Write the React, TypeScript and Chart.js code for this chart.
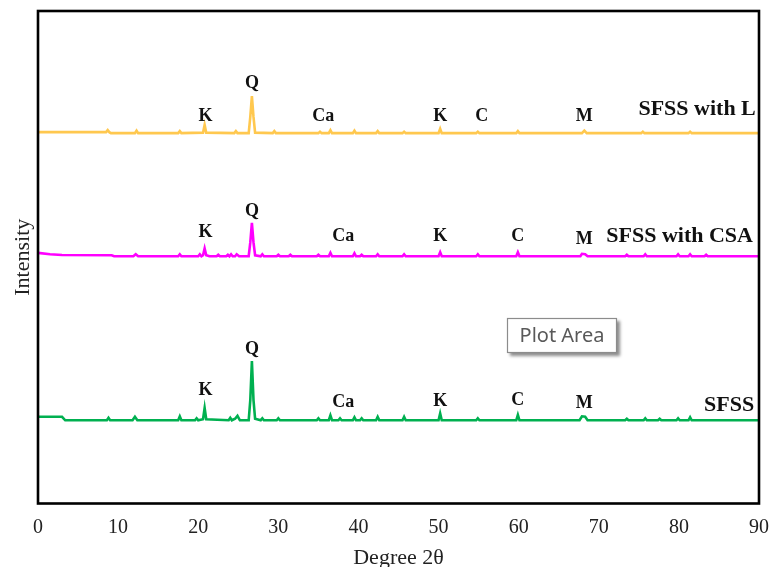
import React, { useEffect, useRef } from "react";
import { Chart, registerables } from "chart.js";

Chart.register(...registerables);

// 2θ (deg) and intensity (arbitrary, offset per pattern)
const greenDeg = [0, 3.0, 3.4, 8.6, 8.8, 9.0, 11.8, 12.1, 12.4, 17.5, 17.7, 17.9, 19.6, 19.8, 20.0, 20.6, 20.8, 21.0, 23.8, 24.0, 24.2, 24.6, 24.9, 25.2, 26.3, 26.5, 26.7, 26.9, 27.1, 27.8, 28.0, 28.2, 29.8, 30.0, 30.2, 34.8, 35.0, 35.2, 36.3, 36.5, 36.7, 37.5, 37.7, 37.9, 39.3, 39.5, 39.7, 40.2, 40.4, 40.6, 42.2, 42.4, 42.6, 45.5, 45.7, 45.9, 50.0, 50.2, 50.4, 54.7, 54.9, 55.1, 59.7, 59.9, 60.1, 67.6, 67.9, 68.3, 68.6, 73.3, 73.5, 73.7, 75.6, 75.8, 76.0, 77.4, 77.6, 77.8, 79.7, 79.9, 80.1, 81.2, 81.4, 81.6, 90];
const greenInt = [17.6, 17.6, 16.9, 16.9, 17.4, 16.9, 16.9, 17.6, 16.9, 16.9, 17.7, 16.9, 16.9, 17.3, 16.9, 17.1, 19.4, 17.1, 16.9, 17.4, 16.9, 17.2, 17.8, 16.9, 16.9, 21.0, 28.9, 21.0, 17.2, 16.9, 17.3, 16.9, 16.9, 17.3, 16.9, 16.9, 17.3, 16.9, 16.9, 17.9, 16.9, 16.9, 17.3, 16.9, 16.9, 17.5, 16.9, 16.9, 17.3, 16.9, 16.9, 17.6, 16.9, 16.9, 17.6, 16.9, 16.9, 18.3, 16.9, 16.9, 17.3, 16.9, 16.9, 18.0, 16.9, 16.9, 17.7, 17.6, 16.9, 16.9, 17.2, 16.9, 16.9, 17.3, 16.9, 16.9, 17.2, 16.9, 16.9, 17.3, 16.9, 16.9, 17.5, 16.9, 16.9];

const pinkDeg = [0, 1.5, 3.0, 9.2, 9.5, 11.9, 12.2, 12.5, 17.5, 17.7, 17.9, 20.0, 20.2, 20.4, 20.6, 20.8, 21.0, 21.4, 22.3, 22.5, 22.7, 23.5, 23.7, 23.9, 24.1, 24.3, 24.6, 24.8, 25.1, 26.3, 26.5, 26.7, 26.9, 27.1, 27.8, 28.0, 28.2, 29.8, 30.0, 30.2, 31.3, 31.5, 31.7, 34.8, 35.0, 35.2, 36.3, 36.5, 36.7, 39.3, 39.5, 39.7, 40.2, 40.4, 40.6, 42.2, 42.4, 42.6, 45.5, 45.7, 45.9, 50.0, 50.2, 50.4, 54.7, 54.9, 55.1, 59.7, 59.9, 60.1, 67.7, 67.9, 68.3, 68.6, 73.3, 73.5, 73.7, 75.6, 75.8, 76.0, 79.7, 79.9, 80.1, 81.2, 81.4, 81.6, 83.2, 83.4, 83.6, 90];
const pinkInt = [50.9, 50.6, 50.45, 50.4, 50.2, 50.2, 50.6, 50.2, 50.2, 50.6, 50.2, 50.2, 50.6, 50.2, 50.4, 51.8, 50.4, 50.2, 50.2, 50.5, 50.2, 50.2, 50.5, 50.2, 50.6, 50.2, 50.2, 50.6, 50.2, 50.2, 53.0, 57.0, 53.0, 50.4, 50.2, 50.6, 50.2, 50.2, 50.5, 50.2, 50.2, 50.5, 50.2, 50.2, 50.5, 50.2, 50.2, 50.9, 50.2, 50.2, 50.8, 50.2, 50.2, 50.5, 50.2, 50.2, 50.6, 50.2, 50.2, 50.6, 50.2, 50.2, 51.0, 50.2, 50.2, 50.6, 50.2, 50.2, 51.0, 50.2, 50.2, 50.7, 50.6, 50.2, 50.2, 50.5, 50.2, 50.2, 50.6, 50.2, 50.2, 50.6, 50.2, 50.2, 50.6, 50.2, 50.2, 50.5, 50.2, 50.2];

const yellowDeg = [0, 8.5, 8.7, 8.9, 9.1, 12.1, 12.3, 12.5, 17.5, 17.7, 17.9, 20.6, 20.8, 21.0, 24.5, 24.7, 24.9, 26.3, 26.5, 26.7, 26.9, 27.1, 29.3, 29.5, 29.7, 35.0, 35.2, 35.4, 36.3, 36.5, 36.7, 39.3, 39.5, 39.7, 42.2, 42.4, 42.6, 45.5, 45.7, 45.9, 50.0, 50.2, 50.4, 54.7, 54.9, 55.1, 59.7, 59.9, 60.1, 67.9, 68.2, 68.5, 75.3, 75.5, 75.7, 81.2, 81.4, 81.6, 90];
const yellowInt = [75.4, 75.4, 75.8, 75.4, 75.2, 75.2, 75.7, 75.2, 75.2, 75.6, 75.2, 75.3, 76.9, 75.3, 75.2, 75.6, 75.2, 75.2, 78.5, 82.7, 78.5, 75.3, 75.2, 75.6, 75.2, 75.2, 75.5, 75.2, 75.2, 75.8, 75.2, 75.2, 75.7, 75.2, 75.2, 75.6, 75.2, 75.2, 75.5, 75.2, 75.2, 76.1, 75.2, 75.2, 75.5, 75.2, 75.2, 75.6, 75.2, 75.2, 75.7, 75.2, 75.2, 75.5, 75.2, 75.2, 75.5, 75.2, 75.2];

const seriesNames = ["SFSS with L", "SFSS with CSA", "SFSS"];
const nameDeg = [89.6, 89.25, 89.4];
const nameVal = [80.1, 54.3, 20.0];

const yellowLabelText = ["K", "Q", "Ca", "K", "C", "M"];
const yellowLabelDeg = [20.9, 26.7, 35.6, 50.2, 55.4, 68.2];
const yellowLabelVal = [78.7, 85.4, 78.7, 78.7, 78.7, 78.7];

const pinkLabelText = ["K", "Q", "Ca", "K", "C", "M"];
const pinkLabelDeg = [20.9, 26.7, 38.1, 50.2, 59.9, 68.2];
const pinkLabelVal = [55.1, 59.4, 54.3, 54.3, 54.3, 53.7];

const greenLabelText = ["K", "Q", "Ca", "K", "C", "M"];
const greenLabelDeg = [20.9, 26.7, 38.1, 50.2, 59.9, 68.2];
const greenLabelVal = [23.05, 31.2, 20.6, 20.8, 21.0, 20.4];

const xTicks = [0, 10, 20, 30, 40, 50, 60, 70, 80, 90];

const toPts = (xs: number[], ys: number[]) => xs.map((x, i) => ({ x, y: ys[i] }));

const SERIF = "'Liberation Serif', 'Times New Roman', serif";

const annotPlugin = {
  id: "annot",
  afterDraw(chart: any) {
    const { ctx, chartArea, scales } = chart;
    const xs = scales.x;
    const ys = scales.y;
    ctx.save();
    // frame
    ctx.strokeStyle = "#000";
    ctx.lineWidth = 2.6;
    ctx.strokeRect(chartArea.left, chartArea.top, chartArea.right - chartArea.left, chartArea.bottom - chartArea.top);

    // peak letters
    ctx.fillStyle = "#111";
    ctx.textBaseline = "middle";
    ctx.textAlign = "center";
    ctx.font = `bold 18px ${SERIF}`;
    const groups: [string[], number[], number[]][] = [
      [yellowLabelText, yellowLabelDeg, yellowLabelVal],
      [pinkLabelText, pinkLabelDeg, pinkLabelVal],
      [greenLabelText, greenLabelDeg, greenLabelVal],
    ];
    groups.forEach(([t, d, v]) => {
      t.forEach((s, i) => {
        ctx.fillText(s, xs.getPixelForValue(d[i]), ys.getPixelForValue(v[i]));
      });
    });
    // series names
    ctx.textAlign = "right";
    ctx.font = `bold 22px ${SERIF}`;
    seriesNames.forEach((s, i) => {
      ctx.fillText(s, xs.getPixelForValue(nameDeg[i]), ys.getPixelForValue(nameVal[i]));
    });

    // "Plot Area" hover hint box
    const bx = 507, by = 318, bw = 110, bh = 35;
    ctx.shadowColor = "rgba(0,0,0,0.45)";
    ctx.shadowBlur = 3;
    ctx.shadowOffsetX = 3;
    ctx.shadowOffsetY = 3;
    ctx.fillStyle = "#fff";
    ctx.fillRect(bx, by, bw, bh);
    ctx.shadowColor = "transparent";
    ctx.strokeStyle = "#8c8c8c";
    ctx.lineWidth = 1.2;
    ctx.strokeRect(bx + 0.5, by + 0.5, bw - 1, bh - 1);
    ctx.fillStyle = "#595959";
    ctx.font = "20px 'Noto Sans', 'Open Sans', sans-serif";
    ctx.textAlign = "center";
    ctx.fillText("Plot Area", bx + bw / 2, by + bh / 2 + 1);
    ctx.restore();
  },
};

export default function App() {
  const ref = useRef<HTMLCanvasElement>(null);
  useEffect(() => {
    if (!ref.current) return;
    const chart = new Chart(ref.current, {
      type: "line",
      data: {
        datasets: [
          { label: seriesNames[0], data: toPts(yellowDeg, yellowInt), borderColor: "#FFC84F", borderWidth: 2.6, pointRadius: 0, tension: 0 },
          { label: seriesNames[1], data: toPts(pinkDeg, pinkInt), borderColor: "#FF00FF", borderWidth: 2.6, pointRadius: 0, tension: 0 },
          { label: seriesNames[2], data: toPts(greenDeg, greenInt), borderColor: "#00B050", borderWidth: 2.6, pointRadius: 0, tension: 0 },
        ],
      },
      options: {
        animation: false,
        responsive: false,
        devicePixelRatio: 1,
        layout: { padding: { top: 11, right: 12, left: 0, bottom: 0 } },
        plugins: { legend: { display: false }, tooltip: { enabled: false } },
        scales: {
          x: {
            type: "linear",
            min: 0,
            max: 90,
            afterBuildTicks: (s: any) => { s.ticks = xTicks.map((v) => ({ value: v })); },
            afterFit: (s: any) => { s.height = 63.5; s.paddingLeft = 0; s.paddingRight = 0; },
            grid: { display: false, drawTicks: false },
            border: { display: false },
            ticks: { color: "#222", font: { family: SERIF, size: 20 }, padding: 12, maxRotation: 0 },
            title: { display: true, text: "Degree 2θ", color: "#222", font: { family: SERIF, size: 22 }, padding: { top: 0, bottom: -4 } },
          },
          y: {
            min: 0,
            max: 100,
            afterFit: (s: any) => { s.width = 38; s.paddingTop = 0; s.paddingBottom = 0; },
            grid: { display: false, drawTicks: false },
            border: { display: false },
            ticks: { display: false },
            title: { display: true, text: "Intensity", color: "#222", font: { family: SERIF, size: 22 }, padding: { top: 10, bottom: 0 } },
          },
        },
      },
      plugins: [annotPlugin],
    } as any);
    return () => chart.destroy();
  }, []);
  return (
    <div style={{ position: "absolute", left: 0, top: 0, width: 771, height: 567, overflow: "hidden", background: "#fff" }}>
      <canvas ref={ref} width={771} height={567} style={{ display: "block" }} />
    </div>
  );
}
